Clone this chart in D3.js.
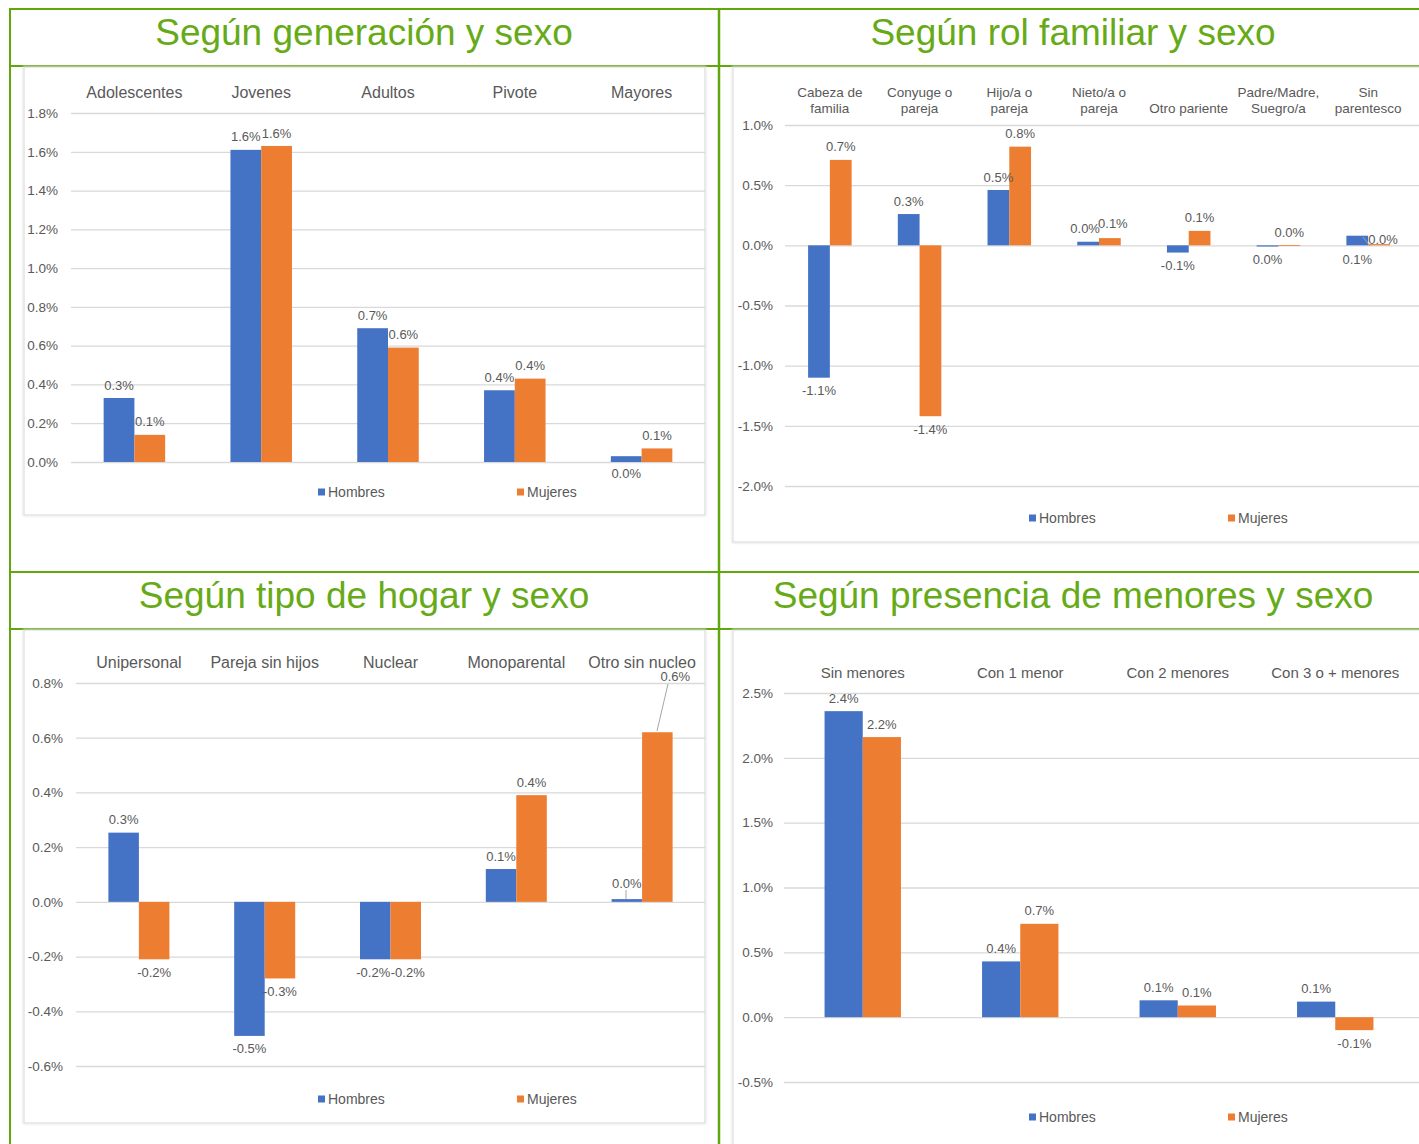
<!DOCTYPE html>
<html lang="es">
<head>
<meta charset="utf-8">
<script src="https://cdn.jsdelivr.net/npm/d3@7"></script>
<style>
  html, body { margin: 0; padding: 0; background: #ffffff; }
  svg { display: block; font-family: "Liberation Sans", Arial, Helvetica, sans-serif; }
</style>
</head>
<body>
<svg id="chart" width="1419" height="1144"></svg>
<script>
// ---- Data: variación por grupo (en %), Hombres y Mujeres ----
const seriesNames = ["Hombres", "Mujeres"];

const genCategories = ["Adolescentes", "Jovenes", "Adultos", "Pivote", "Mayores"];
const genHombres = [0.33, 1.61, 0.69, 0.37, 0.03];
const genMujeres = [0.14, 1.63, 0.59, 0.43, 0.07];
const genTicks = [0, 0.2, 0.4, 0.6, 0.8, 1.0, 1.2, 1.4, 1.6, 1.8];

const rolCategories = [["Cabeza de", "familia"], ["Conyuge o", "pareja"], ["Hijo/a o", "pareja"],
  ["Nieto/a o", "pareja"], ["Otro pariente"], ["Padre/Madre,", "Suegro/a"], ["Sin", "parentesco"]];
const rolHombres = [-1.10, 0.26, 0.46, 0.03, -0.06, -0.01, 0.08];
const rolMujeres = [0.71, -1.42, 0.82, 0.06, 0.12, 0.003, 0.01];
const rolTicks = [-2.0, -1.5, -1.0, -0.5, 0.0, 0.5, 1.0];

const hogarCategories = ["Unipersonal", "Pareja sin hijos", "Nuclear", "Monoparental", "Otro sin nucleo"];
const hogarHombres = [0.253, -0.49, -0.21, 0.12, 0.01];
const hogarMujeres = [-0.21, -0.28, -0.21, 0.39, 0.62];
const hogarTicks = [-0.6, -0.4, -0.2, 0.0, 0.2, 0.4, 0.6, 0.8];

const menoresCategories = ["Sin menores", "Con 1 menor", "Con 2 menores", "Con 3 o + menores"];
const menoresHombres = [2.36, 0.43, 0.13, 0.12];
const menoresMujeres = [2.16, 0.72, 0.09, -0.10];
const menoresTicks = [-0.5, 0.0, 0.5, 1.0, 1.5, 2.0, 2.5];

const panelTitles = ["Según generación y sexo", "Según rol familiar y sexo",
  "Según tipo de hogar y sexo", "Según presencia de menores y sexo"];

// ---- Styling ----
const GREEN = "#60a70c";
const TITLE_GREEN = "#66ab17";
const BLUE = "#4472c4";
const ORANGE = "#ed7d31";
const TEXT = "#595959";
const GRID = "#d9d9d9";
const colors = [BLUE, ORANGE];

const locale = d3.formatLocale({ decimal: ".", thousands: ",", grouping: [3], currency: ["", ""], minus: "-" });
const f1 = locale.format(".1f");
const pct = v => f1(v) + "%";

const svg = d3.select("#chart");

// ---- Outer green grid and panel titles ----
const frame = svg.append("g").attr("stroke", GREEN).attr("fill", "none");
frame.append("line").attr("x1", 9).attr("x2", 1419).attr("y1", 9).attr("y2", 9).attr("stroke-width", 2);
frame.append("line").attr("x1", 9).attr("x2", 1419).attr("y1", 66).attr("y2", 66).attr("stroke-width", 2);
frame.append("line").attr("x1", 9).attr("x2", 1419).attr("y1", 572).attr("y2", 572).attr("stroke-width", 2);
frame.append("line").attr("x1", 9).attr("x2", 1419).attr("y1", 629).attr("y2", 629).attr("stroke-width", 2);
frame.append("line").attr("x1", 10).attr("x2", 10).attr("y1", 8).attr("y2", 1144).attr("stroke-width", 2);
frame.append("line").attr("x1", 719).attr("x2", 719).attr("y1", 8).attr("y2", 1144).attr("stroke-width", 2.5);

const titlePos = [[364, 45], [1073, 45], [364, 608], [1073, 608]];
panelTitles.forEach((t, i) => {
  svg.append("text")
    .attr("x", titlePos[i][0]).attr("y", titlePos[i][1])
    .attr("text-anchor", "middle")
    .attr("font-size", 37)
    .attr("fill", TITLE_GREEN)
    .text(t);
});

// ---- Panel layouts ----
const panels = [
  {
    categories: genCategories, values: [genHombres, genMujeres], ticks: genTicks,
    frame: [24, 67, 705, 515], x: [71, 705], gridRight: 705,
    domain: [0, 1.8], y: [462, 113], tickRight: 58, catY: 98, catSize: 16,
    legendY: 492, legendX: [318, 517],
    nudges: { "0-4": { dy: 30, dx: 0 } }
  },
  {
    categories: rolCategories, values: [rolHombres, rolMujeres], ticks: rolTicks,
    frame: [733, 67, 1425, 542], x: [785, 1413], gridRight: 1419,
    domain: [-2.0, 1.0], y: [486, 125], tickRight: 773, catY: 113, catSize: 13.5, catLine: 16,
    legendY: 518, legendX: [1029, 1228],
    nudges: {
      "0-3": { dx: -3, dy: 0 }, "1-3": { dx: 3, dy: -2 },
      "0-6": { dx: 0, dy: 37 }, "1-6": { dx: 4, dy: 8 }
    },
    leaders: [[1363, 237, 1370, 246]]
  },
  {
    categories: hogarCategories, values: [hogarHombres, hogarMujeres], ticks: hogarTicks,
    frame: [24, 630, 705, 1123], x: [76, 705], gridRight: 705,
    domain: [-0.6, 0.8], y: [1066, 683], tickRight: 63, catY: 668, catSize: 16,
    legendY: 1099, legendX: [318, 517],
    nudges: {
      "0-2": { dx: -2, dy: 0 }, "1-2": { dx: 2, dy: 0 },
      "0-4": { dx: 0, dy: -3 }, "1-4": { dx: 18, dy: -43 }
    },
    leaders: [[626, 890, 626, 899], [668, 684, 657, 731]]
  },
  {
    categories: menoresCategories, values: [menoresHombres, menoresMujeres], ticks: menoresTicks,
    frame: [733, 630, 1425, 1150], x: [784, 1414], gridRight: 1419,
    domain: [-0.5, 2.5], y: [1082, 693], tickRight: 773, catY: 678, catSize: 15,
    legendY: 1117, legendX: [1029, 1228],
    nudges: {}
  }
];

// Soft shadow used around each embedded chart area
const defs = svg.append("defs");
const flt = defs.append("filter").attr("id", "soft").attr("x", "-5%").attr("y", "-5%").attr("width", "110%").attr("height", "110%");
flt.append("feGaussianBlur").attr("stdDeviation", 1.2);

panels.forEach(drawPanel);

function drawPanel(p) {
  const g = svg.append("g");
  const [fx0, fy0, fx1, fy1] = p.frame;

  // chart area border
  g.append("rect")
    .attr("x", fx0).attr("y", fy0).attr("width", fx1 - fx0).attr("height", fy1 - fy0)
    .attr("fill", "none").attr("stroke", "#dcdcdc").attr("stroke-width", 2)
    .attr("filter", "url(#soft)");
  g.append("rect")
    .attr("x", fx0 + 1).attr("y", fy0 + 1).attr("width", fx1 - fx0 - 2).attr("height", fy1 - fy0 - 2)
    .attr("fill", "#ffffff");

  const n = p.categories.length;
  const x = d3.scaleBand().domain(d3.range(n)).range(p.x).paddingInner(0).paddingOuter(0);
  const groupW = x.bandwidth() * 0.485;
  const xs = d3.scaleBand().domain([0, 1]).range([0, groupW]);
  const y = d3.scaleLinear().domain(p.domain).range(p.y);

  // gridlines + tick labels
  const axis = d3.axisLeft(y)
    .tickValues(p.ticks)
    .tickFormat(pct)
    .tickSize(-(p.gridRight - p.x[0]))
    .tickPadding(p.x[0] - p.tickRight);
  const ag = g.append("g").attr("transform", `translate(${p.x[0]},0)`).call(axis);
  ag.select(".domain").remove();
  ag.selectAll(".tick line").attr("stroke", GRID).attr("stroke-width", 1.3);
  ag.selectAll(".tick text")
    .attr("fill", TEXT).attr("font-size", 13.5)
    .attr("font-family", "'Liberation Sans', Arial, sans-serif");

  // category labels along the top
  p.categories.forEach((c, i) => {
    const lines = Array.isArray(c) ? c : [c];
    const cx = x(i) + x.bandwidth() / 2;
    const t = g.append("text")
      .attr("x", cx).attr("text-anchor", "middle")
      .attr("font-size", p.catSize).attr("fill", TEXT);
    lines.forEach((ln, k) => {
      const lh = p.catLine || 0;
      t.append("tspan").attr("x", cx)
        .attr("y", p.catY - (lines.length - 1 - k) * lh)
        .text(ln);
    });
  });

  // bars
  const groupX = i => x(i) + x.bandwidth() / 2 - groupW / 2;
  p.values.forEach((vals, s) => {
    g.append("g").selectAll("rect")
      .data(vals)
      .join("rect")
      .attr("x", (d, i) => groupX(i) + xs(s))
      .attr("width", xs.bandwidth())
      .attr("y", d => Math.min(y(d), y(0)))
      .attr("height", d => Math.max(0.8, Math.abs(y(d) - y(0))))
      .attr("fill", colors[s]);
  });

  // leader lines
  (p.leaders || []).forEach(l => {
    g.append("line")
      .attr("x1", l[0]).attr("y1", l[1]).attr("x2", l[2]).attr("y2", l[3])
      .attr("stroke", "#a6a6a6").attr("stroke-width", 1);
  });

  // value labels
  p.values.forEach((vals, s) => {
    vals.forEach((d, i) => {
      const nudge = p.nudges[`${s}-${i}`] || { dx: 0, dy: 0 };
      const cx = groupX(i) + xs(s) + xs.bandwidth() / 2 + nudge.dx;
      const cy = (d >= 0 ? y(d) - 13 : y(d) + 13) + nudge.dy;
      g.append("text")
        .attr("x", cx).attr("y", cy)
        .attr("dy", "0.35em")
        .attr("text-anchor", "middle")
        .attr("font-size", 13).attr("fill", TEXT)
        .text(pct(d));
    });
  });

  // legend
  seriesNames.forEach((name, s) => {
    const lx = p.legendX[s];
    g.append("rect")
      .attr("x", lx).attr("y", p.legendY - 3.5)
      .attr("width", 7).attr("height", 7)
      .attr("fill", colors[s]);
    g.append("text")
      .attr("x", lx + 10).attr("y", p.legendY)
      .attr("dy", "0.35em")
      .attr("font-size", 14).attr("fill", TEXT)
      .text(name);
  });
}
</script>
</body>
</html>
